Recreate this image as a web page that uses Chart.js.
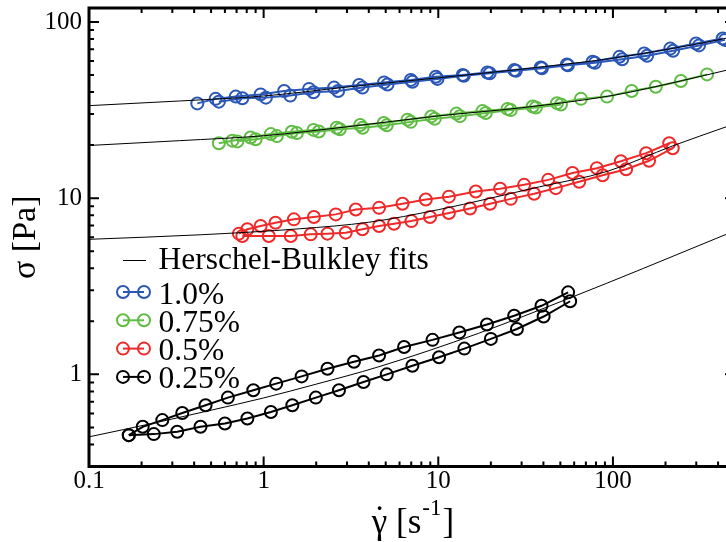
<!DOCTYPE html>
<html>
<head>
<meta charset="utf-8">
<script src="https://cdn.jsdelivr.net/npm/chart.js@4/dist/chart.umd.min.js"></script>
<style>
  html, body { margin: 0; padding: 0; background: #fff; overflow: hidden; }
  #wrap { width: 745px; height: 542px; }
</style>
</head>
<body>
<div id="wrap"><canvas id="myChart" width="745" height="542"></canvas></div>
<script>
// shear rate (1/s) and stress (Pa), two sweeps per concentration
const blueUpX = [0.417, 0.531, 0.692, 0.961, 1.31, 1.82, 2.53, 3.52, 4.89, 6.96, 9.68, 13.8, 19.1, 27.2, 38.6, 54.5, 76.5, 109, 151, 213, 299, 425];
const blueUpY = [34.5, 36.6, 37.7, 38.8, 40.6, 41.7, 42.4, 43.9, 45.4, 46.9, 48.9, 50.0, 51.7, 53.3, 55.2, 57.4, 59.4, 63.4, 66.2, 70.6, 75.4, 80.5];
const blueDownX = [0.554, 0.755, 1.03, 1.42, 1.93, 2.67, 3.68, 5.12, 7.11, 9.89, 14.0, 19.7, 27.8, 39.2, 55.2, 78.9, 113, 157, 221, 311, 438];
const blueDownY = [35.3, 36.9, 37.2, 38.2, 39.9, 40.6, 42.4, 44.2, 45.8, 47.5, 49.5, 51.2, 52.9, 54.6, 56.8, 58.6, 61.4, 64.3, 68.6, 73.6, 79.1];

const greenUpX = [0.554, 0.662, 0.842, 1.10, 1.45, 1.93, 2.62, 3.57, 4.87, 6.66, 9.12, 12.7, 17.9, 24.9, 34.7, 47.8, 65.6, 92.5, 128, 176, 245, 346];
const greenUpY = [20.5, 21.2, 22.1, 23.1, 23.8, 24.4, 25.1, 26.0, 26.7, 27.9, 29.1, 30.2, 31.2, 32.1, 33.1, 34.6, 36.6, 37.7, 40.6, 42.9, 46.2, 50.4];
const greenDownX = [0.707, 0.900, 1.19, 1.55, 2.07, 2.73, 3.69, 5.07, 6.96, 9.55, 13.3, 18.7, 26.0, 36.2, 50.4];
const greenDownY = [21.0, 21.6, 22.5, 23.4, 23.9, 24.6, 25.1, 25.9, 27.1, 28.2, 29.2, 30.4, 31.6, 32.7, 34.0];

const redUpX = [0.722, 0.807, 0.961, 1.17, 1.49, 1.94, 2.59, 3.37, 4.58, 6.24, 8.48, 11.5, 16.4, 22.6, 31.0, 42.6, 58.7, 80.9, 111, 155, 210];
const redUpY = [6.29, 6.66, 6.95, 7.25, 7.58, 7.81, 8.09, 8.63, 8.81, 9.29, 9.83, 10.2, 10.9, 11.3, 11.9, 12.7, 13.9, 14.8, 16.2, 18.0, 20.5];
const redDownX = [0.755, 1.07, 1.43, 1.86, 2.32, 2.95, 3.68, 4.58, 5.58, 7.02, 8.97, 11.5, 15.2, 19.8, 26.0, 35.4, 47.1, 64.1, 87.3, 119, 161, 220];
const redDownY = [6.10, 6.10, 6.10, 6.23, 6.29, 6.37, 6.66, 6.95, 7.16, 7.41, 7.81, 8.23, 8.74, 9.29, 9.91, 10.6, 11.4, 12.4, 13.5, 14.6, 16.3, 19.2];

const blackUpX = [0.169, 0.203, 0.263, 0.342, 0.465, 0.624, 0.873, 1.18, 1.65, 2.32, 3.29, 4.58, 6.37, 9.27, 13.2, 19.0, 27.2, 39.0, 55.4];
const blackUpY = [0.452, 0.504, 0.550, 0.604, 0.668, 0.738, 0.812, 0.886, 0.974, 1.077, 1.18, 1.28, 1.43, 1.57, 1.73, 1.92, 2.15, 2.45, 2.92];
const blackDownX = [0.169, 0.235, 0.320, 0.435, 0.600, 0.807, 1.10, 1.46, 1.99, 2.70, 3.73, 5.07, 7.11, 10.1, 14.1, 20.0, 28.2, 40.1, 56.9];
const blackDownY = [0.452, 0.458, 0.472, 0.504, 0.526, 0.562, 0.612, 0.668, 0.738, 0.812, 0.905, 1.00, 1.12, 1.25, 1.40, 1.59, 1.81, 2.13, 2.60];

// Herschel-Bulkley fit curves
const fitBlueX = [0.1, 0.33, 1, 3, 10, 30, 100, 300, 450];
const fitBlueY = [33.5, 35.6, 38.0, 42.7, 48.2, 54.0, 62.3, 74.8, 81.0];
const fitGreenX = [0.1, 0.33, 1, 3, 10, 30, 100, 250, 450];
const fitGreenY = [19.9, 21.2, 22.6, 25.4, 29.3, 32.6, 38.3, 46.5, 53.3];
const fitRedX = [0.1, 0.44, 1.6, 4, 10, 38, 93, 220, 450];
const fitRedY = [5.84, 6.2, 6.7, 7.3, 8.6, 11.6, 14.2, 19.8, 25.5];
const fitBlackX = [0.1, 0.25, 0.5, 1, 2, 4.5, 17, 56, 150, 450];
const fitBlackY = [0.442, 0.536, 0.626, 0.735, 0.88, 1.10, 1.71, 2.7, 4.0, 6.26];

const concentrations = ['1.0%', '0.75%', '0.5%', '0.25%'];
const colors = ['#2a56b6', '#60bd44', '#ee2a2a', '#000000'];
const xTicks = [0.1, 1, 10, 100];
const yTicks = [1, 10, 100];

const serif = "'Liberation Serif', 'Times New Roman', serif";

function pts(xs, ys) {
  return xs.map((x, i) => ({ x: x, y: ys[i] }));
}

const sweeps = [
  [blueUpX, blueUpY, blueDownX, blueDownY],
  [greenUpX, greenUpY, greenDownX, greenDownY],
  [redUpX, redUpY, redDownX, redDownY],
  [blackUpX, blackUpY, blackDownX, blackDownY]
];
const fits = [
  [fitBlueX, fitBlueY], [fitGreenX, fitGreenY], [fitRedX, fitRedY], [fitBlackX, fitBlackY]
];

const datasets = [];
fits.forEach(f => {
  datasets.push({
    label: 'Herschel-Bulkley fits',
    data: pts(f[0], f[1]),
    borderColor: '#000',
    borderWidth: 1,
    pointRadius: 0,
    cubicInterpolationMode: 'monotone',
    fill: false,
    order: 0
  });
});
sweeps.forEach((s, i) => {
  [[s[0], s[1]], [s[2], s[3]]].forEach(run => {
    datasets.push({
      label: concentrations[i],
      data: pts(run[0], run[1]),
      borderColor: colors[i],
      borderWidth: 2,
      pointRadius: 6,
      pointBorderWidth: 2,
      pointBorderColor: colors[i],
      pointBackgroundColor: 'rgba(0,0,0,0)',
      tension: 0,
      fill: false,
      order: 1
    });
  });
});

// all 1..9 x 10^n positions between min and max, for the inward tick marks
function logMarks(scale) {
  const out = [];
  for (let e = Math.floor(Math.log10(scale.min)); e <= Math.ceil(Math.log10(scale.max)); e++) {
    for (let s = 1; s <= 9; s++) {
      const v = s * Math.pow(10, e);
      if (v >= scale.min * 0.999 && v <= scale.max * 1.001) out.push({ v: v, major: s === 1 });
    }
  }
  return out;
}

const framePlugin = {
  id: 'frame',
  afterDraw(chart) {
    const { ctx, chartArea: a } = chart;
    const x = chart.scales.x, y = chart.scales.y;
    ctx.save();
    ctx.strokeStyle = '#000';
    ctx.lineWidth = 2;
    ctx.beginPath();
    logMarks(x).forEach(m => {
      const px = x.getPixelForValue(m.v);
      const len = m.major ? 10 : 5;
      ctx.moveTo(px, a.bottom); ctx.lineTo(px, a.bottom - len);
      ctx.moveTo(px, a.top); ctx.lineTo(px, a.top + len);
    });
    logMarks(y).forEach(m => {
      const py = y.getPixelForValue(m.v);
      const len = m.major ? 10 : 5;
      ctx.moveTo(a.left, py); ctx.lineTo(a.left + len, py);
      ctx.moveTo(a.right, py); ctx.lineTo(a.right - len, py);
    });
    ctx.stroke();
    ctx.lineWidth = 3;
    ctx.strokeRect(a.left, a.top, a.right - a.left, a.bottom - a.top);
    ctx.restore();
  }
};

const legendPlugin = {
  id: 'inlineLegend',
  afterDraw(chart) {
    const ctx = chart.ctx;
    ctx.save();
    ctx.font = '31.5px ' + serif;
    ctx.fillStyle = '#000';
    ctx.textBaseline = 'alphabetic';
    ctx.strokeStyle = '#000';
    ctx.lineWidth = 1;
    ctx.beginPath();
    ctx.moveTo(123, 260.5); ctx.lineTo(146, 260.5);
    ctx.stroke();
    ctx.fillText('Herschel-Bulkley fits', 158.5, 268.5);
    concentrations.forEach((label, i) => {
      const cy = 292 + i * 28.3;
      ctx.strokeStyle = colors[i];
      ctx.lineWidth = 2;
      ctx.beginPath();
      ctx.moveTo(123, cy); ctx.lineTo(144, cy);
      ctx.stroke();
      [123, 144].forEach(cx => {
        ctx.beginPath();
        ctx.arc(cx, cy, 6, 0, Math.PI * 2);
        ctx.stroke();
      });
      ctx.fillText(label, 158.5, cy + 11.5);
    });
    ctx.restore();
  }
};

// x-axis title with a dotted gamma and a superscript
const xTitlePlugin = {
  id: 'xTitle',
  afterDraw(chart) {
    const ctx = chart.ctx;
    const a = chart.chartArea;
    const big = '35px ' + serif, small = '23px ' + serif;
    const base = 533;
    ctx.save();
    ctx.fillStyle = '#000';
    ctx.textBaseline = 'alphabetic';
    ctx.font = big;
    const wG = ctx.measureText('γ').width;
    const wA = ctx.measureText(' [s').width;
    const wC = ctx.measureText(']').width;
    ctx.font = small;
    const wS = ctx.measureText('-1').width;
    let px = (a.left + a.right) / 2 - (wG + wA + wS + wC) / 2;
    ctx.font = big;
    ctx.fillText('γ', px, base);
    ctx.textAlign = 'center';
    ctx.fillText('˙', px + wG / 2, base - 3);
    ctx.textAlign = 'left';
    px += wG;
    ctx.fillText(' [s', px, base);
    px += wA;
    ctx.font = small;
    ctx.fillText('-1', px + 1, base - 18);
    px += wS + 2;
    ctx.font = big;
    ctx.fillText(']', px, base);
    ctx.restore();
  }
};

new Chart(document.getElementById('myChart'), {
  type: 'line',
  data: { datasets: datasets },
  options: {
    responsive: false,
    animation: false,
    layout: { padding: { top: 6, right: 10, left: 0, bottom: 0 } },
    plugins: { legend: { display: false }, tooltip: { enabled: false } },
    scales: {
      x: {
        type: 'logarithmic',
        min: 0.1,
        max: 500,
        afterFit: s => { s.height = 75.5; s.paddingLeft = 0; s.paddingRight = 0; },
        afterBuildTicks: s => { s.ticks = xTicks.map(v => ({ value: v })); },
        grid: { display: false, drawTicks: false },
        border: { display: false },
        ticks: {
          autoSkip: false, maxRotation: 0, padding: 0, color: '#000',
          font: { family: serif, size: 25 },
          callback: v => String(v)
        }
      },
      y: {
        type: 'logarithmic',
        min: 0.3,
        max: 120,
        afterFit: s => { s.width = 89; s.paddingTop = 0; s.paddingBottom = 0; },
        afterBuildTicks: s => { s.ticks = yTicks.map(v => ({ value: v })); },
        grid: { display: false, drawTicks: false },
        border: { display: false },
        ticks: {
          autoSkip: false, padding: 7, color: '#000',
          font: { family: serif, size: 25 },
          callback: v => String(v)
        },
        title: {
          display: true, text: 'σ [Pa]', color: '#000',
          font: { family: serif, size: 34 },
          padding: { top: 6, bottom: 0 }
        }
      }
    }
  },
  plugins: [framePlugin, legendPlugin, xTitlePlugin]
});
</script>
</body>
</html>
